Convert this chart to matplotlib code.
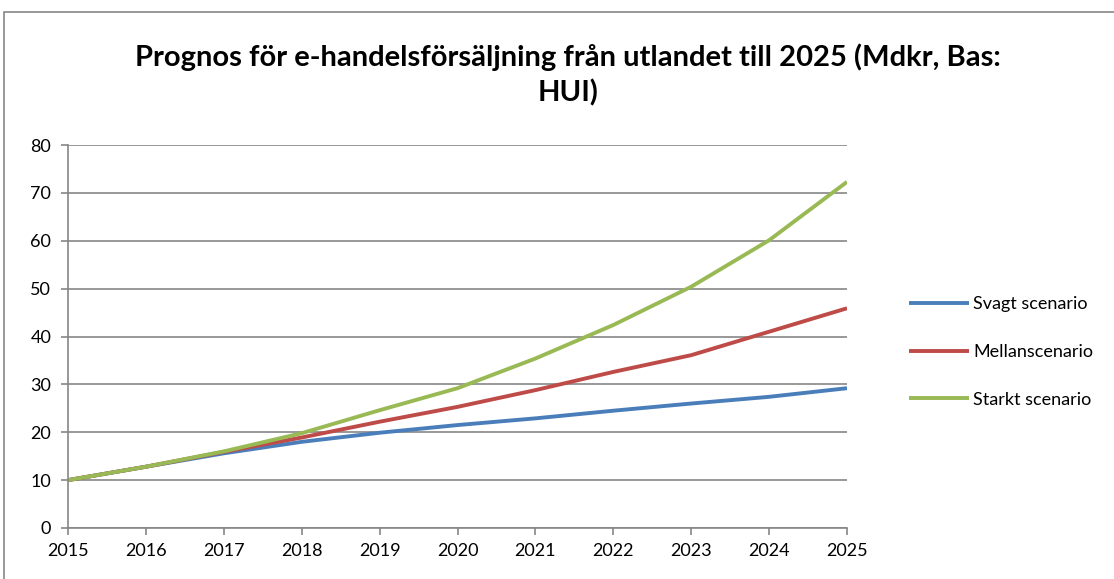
import matplotlib
matplotlib.use("Agg")
import matplotlib.pyplot as plt
from matplotlib.patches import Rectangle

years = [2015, 2016, 2017, 2018, 2019, 2020, 2021, 2022, 2023, 2024, 2025]
svagt = [10.0, 12.8, 15.6, 18.0, 19.9, 21.5, 22.9, 24.5, 26.0, 27.4, 29.2]
mellan = [10.0, 12.8, 15.9, 18.9, 22.2, 25.3, 28.8, 32.6, 36.1, 41.0, 45.9]
starkt = [10.0, 12.8, 16.0, 19.8, 24.6, 29.2, 35.4, 42.4, 50.4, 60.1, 72.3]
series_names = ["Svagt scenario", "Mellanscenario", "Starkt scenario"]
colors = ["#4A7EBB", "#BE4B48", "#98B954"]
yticks = [0, 10, 20, 30, 40, 50, 60, 70, 80]
title = "Prognos för e-handelsförsäljning från utlandet till 2025 (Mdkr, Bas:\nHUI)"

plt.rcParams['font.family'] = ['Lato', 'DejaVu Sans']

fig = plt.figure(figsize=(11.14, 5.79), dpi=100)
fig.patches.append(Rectangle((4/1114, -0.1), 1.2, 1 - 12/579 + 0.1, transform=fig.transFigure,
                             fill=False, edgecolor="#868686", linewidth=1.2))
ax = fig.add_axes([68/1114, 1 - 528/579, (847 - 68)/1114, (528 - 145)/579])

for vals, name, c in zip([svagt, mellan, starkt], series_names, colors):
    ax.plot(years, vals, color=c, linewidth=2.8, label=name, solid_capstyle='butt')

ax.set_xlim(2015, 2025)
ax.set_ylim(0, 80)
ax.set_xticks(years)
ax.set_yticks(yticks)
ax.tick_params(axis='both', labelsize=13, color="#868686", length=5, width=1.2)
ax.tick_params(axis='y', pad=7)
ax.tick_params(axis='x', pad=6)
ax.grid(axis='y', color="#868686", linewidth=1.2)
ax.set_axisbelow(True)
for s in ['top', 'right']:
    ax.spines[s].set_visible(False)
for s in ['left', 'bottom']:
    ax.spines[s].set_color("#868686")
    ax.spines[s].set_linewidth(1.2)

fig.text(568/1114, 1 - 75/579, title, ha='center', va='center', fontsize=21,
         fontweight='bold', linespacing=1.35)

ax.legend(loc='center left', bbox_to_anchor=(909/1114, 1 - 352/579), bbox_transform=fig.transFigure,
          frameon=False, fontsize=13, handlelength=3.3, handletextpad=0.25, labelspacing=1.75,
          borderaxespad=0, borderpad=0)

fig.savefig("out.png", dpi=100)
